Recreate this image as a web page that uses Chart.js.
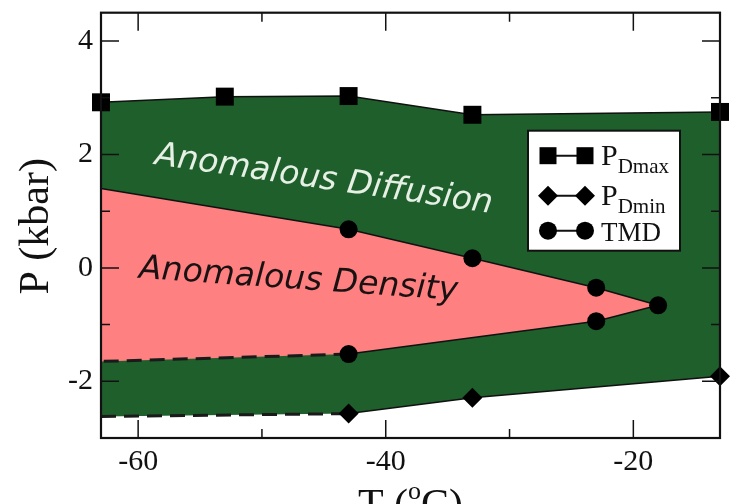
<!DOCTYPE html>
<html>
<head>
<meta charset="utf-8">
<script src="https://cdn.jsdelivr.net/npm/chart.js@4.4.0/dist/chart.umd.min.js"></script>
<style>
  body { margin: 0; background: #fff; }
  canvas { display: block; }
</style>
</head>
<body>
<canvas id="phaseChart" width="746" height="504"></canvas>
<script>
// Temperatures in °C, pressures in kbar
const tempDmax = [-63, -53, -43, -33, -13];
const pDmax = [2.92, 3.02, 3.03, 2.70, 2.75];

const tempDmin = [-43, -33, -13];
const pDmin = [-2.57, -2.29, -1.91];
// extrapolated part of the P_Dmin curve (dashed)
const tempDminExt = [-63, -43];
const pDminExt = [-2.62, -2.57];

// TMD line, upper branch then back along the lower branch
const tempTmd = [-43, -33, -23, -18, -23, -43];
const pTmd = [0.68, 0.17, -0.35, -0.66, -0.94, -1.52];
// extrapolated parts of the TMD line
const tempTmdUpperExt = [-63, -43];
const pTmdUpperExt = [1.40, 0.68];
const tempTmdLowerExt = [-43, -63];
const pTmdLowerExt = [-1.52, -1.65];

const xTicks = [-60, -40, -20];
const xMinorTicks = [-50, -30];
const yTicks = [-2, 0, 2, 4];
const yMinorTicks = [-1, 1, 3];

const GREEN = '#1e5f2c';
const PINK = '#ff8080';

const zip = (xs, ys) => xs.map((x, i) => ({ x: x, y: ys[i] }));

// closed outlines of the two regions
const diffusionRegion = zip(tempDmax, pDmax)
    .concat(zip(tempDmin, pDmin).reverse())
    .concat(zip(tempDminExt, pDminExt).reverse());
const densityRegion = zip(tempTmdUpperExt, pTmdUpperExt)
    .concat(zip(tempTmd, pTmd))
    .concat(zip(tempTmdLowerExt, pTmdLowerExt));

const regionLabels = [
    { text: 'Anomalous Diffusion', t: -45.1, p: 1.40, angle: 8.3, color: '#e6f0e4' },
    { text: 'Anomalous Density', t: -47.1, p: -0.37, angle: 4.0, color: '#1a1212' }
];

// frame and inward ticks on all four sides
const framePlugin = {
    id: 'frame',
    afterDatasetsDraw(chart) {
        const { ctx, chartArea: a, scales: { x, y } } = chart;
        ctx.save();
        ctx.strokeStyle = '#111';
        ctx.lineWidth = 1.5;
        const tick = (vals, len, horiz) => {
            vals.forEach(v => {
                ctx.beginPath();
                if (horiz) {
                    const px = x.getPixelForValue(v);
                    ctx.moveTo(px, a.bottom); ctx.lineTo(px, a.bottom - len);
                    ctx.moveTo(px, a.top); ctx.lineTo(px, a.top + len);
                } else {
                    const py = y.getPixelForValue(v);
                    ctx.moveTo(a.left, py); ctx.lineTo(a.left + len, py);
                    ctx.moveTo(a.right, py); ctx.lineTo(a.right - len, py);
                }
                ctx.stroke();
            });
        };
        tick(xTicks, 18, true);
        tick(xMinorTicks, 9, true);
        tick(yTicks, 18, false);
        tick(yMinorTicks, 9, false);
        ctx.lineWidth = 2.2;
        ctx.strokeRect(a.left, a.top, a.right - a.left, a.bottom - a.top);
        ctx.restore();
    }
};

// region names, axis titles and the legend box
const textPlugin = {
    id: 'texts',
    afterDraw(chart) {
        const { ctx, chartArea: a, scales: { x, y } } = chart;
        ctx.save();

        regionLabels.forEach(l => {
            ctx.save();
            ctx.translate(x.getPixelForValue(l.t), y.getPixelForValue(l.p));
            ctx.rotate(l.angle * Math.PI / 180);
            ctx.font = 'italic 33px "DejaVu Sans"';
            ctx.fillStyle = l.color;
            ctx.textAlign = 'center';
            ctx.textBaseline = 'alphabetic';
            ctx.fillText(l.text, 0, 0);
            ctx.restore();
        });

        ctx.fillStyle = '#111';
        // y title
        ctx.save();
        ctx.translate(48, (a.top + a.bottom) / 2 + 1);
        ctx.rotate(-Math.PI / 2);
        ctx.font = '42px "Liberation Serif"';
        ctx.textAlign = 'center';
        ctx.textBaseline = 'alphabetic';
        ctx.fillText('P (kbar)', 0, 0);
        ctx.restore();

        // x title with superscript degree
        const cx = (a.left + a.right) / 2;
        const base = a.bottom + 80;
        ctx.textBaseline = 'alphabetic';
        ctx.textAlign = 'left';
        ctx.font = '42px "Liberation Serif"';
        const w1 = ctx.measureText('T (').width;
        const w3 = ctx.measureText('C)').width;
        ctx.font = '26px "Liberation Serif"';
        const w2 = ctx.measureText('o').width;
        let px = cx - (w1 + w2 + w3) / 2;
        ctx.font = '42px "Liberation Serif"';
        ctx.fillText('T (', px, base);
        px += w1;
        ctx.font = '26px "Liberation Serif"';
        ctx.fillText('o', px, base - 19);
        px += w2;
        ctx.font = '42px "Liberation Serif"';
        ctx.fillText('C)', px, base);

        // legend
        const lx = a.right - 192, ly = a.top + 118, lw = 152, lh = 120;
        ctx.fillStyle = '#fff';
        ctx.fillRect(lx, ly, lw, lh);
        ctx.strokeStyle = '#111';
        ctx.lineWidth = 2;
        ctx.strokeRect(lx, ly, lw, lh);

        const rows = [
            { shape: 'square', main: 'P', sub: 'Dmax', dy: 25 },
            { shape: 'diamond', main: 'P', sub: 'Dmin', dy: 65 },
            { shape: 'circle', main: 'TMD', sub: '', dy: 100 }
        ];
        rows.forEach(r => {
            const ry = ly + r.dy;
            const m1 = lx + 20, m2 = lx + 57;
            ctx.strokeStyle = '#111';
            ctx.lineWidth = 2;
            ctx.beginPath();
            ctx.moveTo(m1, ry); ctx.lineTo(m2, ry);
            ctx.stroke();
            ctx.fillStyle = '#000';
            [m1, m2].forEach(mx => {
                ctx.beginPath();
                if (r.shape === 'square') {
                    ctx.rect(mx - 8.5, ry - 8.5, 17, 17);
                } else if (r.shape === 'diamond') {
                    ctx.moveTo(mx - 10, ry); ctx.lineTo(mx, ry - 10);
                    ctx.lineTo(mx + 10, ry); ctx.lineTo(mx, ry + 10);
                    ctx.closePath();
                } else {
                    ctx.arc(mx, ry, 9, 0, Math.PI * 2);
                }
                ctx.fill();
            });
            ctx.fillStyle = '#111';
            ctx.textAlign = 'left';
            if (r.sub) {
                ctx.font = '30px "Liberation Serif"';
                ctx.fillText(r.main, lx + 73, ry + 9);
                const pw = ctx.measureText(r.main).width;
                ctx.font = '21px "Liberation Serif"';
                ctx.fillText(r.sub, lx + 73 + pw, ry + 17);
            } else {
                ctx.font = '27px "Liberation Serif"';
                ctx.fillText(r.main, lx + 73, ry + 10);
            }
        });
        ctx.restore();
    }
};

const lineStyle = { showLine: true, borderColor: '#111', tension: 0, clip: false, order: 1 };

new Chart(document.getElementById('phaseChart').getContext('2d'), {
    type: 'scatter',
    data: {
        datasets: [
            {
                label: 'diffusion region', data: diffusionRegion, showLine: true,
                fill: 'shape', backgroundColor: GREEN, borderWidth: 0, pointRadius: 0, order: 10
            },
            {
                label: 'density region', data: densityRegion, showLine: true,
                fill: 'shape', backgroundColor: PINK, borderWidth: 0, pointRadius: 0, order: 9
            },
            Object.assign({}, lineStyle, {
                label: 'P_Dmax', data: zip(tempDmax, pDmax), borderWidth: 1.5,
                pointStyle: 'rect', pointRadius: 12.7, backgroundColor: '#000', pointBorderWidth: 0
            }),
            Object.assign({}, lineStyle, {
                label: 'P_Dmin', data: zip(tempDmin, pDmin), borderWidth: 1.5,
                pointStyle: 'rectRot', pointRadius: 10, backgroundColor: '#000', pointBorderWidth: 0
            }),
            Object.assign({}, lineStyle, {
                label: 'P_Dmin extrapolated', data: zip(tempDminExt, pDminExt), borderWidth: 3,
                borderDash: [15, 8], borderColor: '#1a1a1a', pointRadius: 0
            }),
            Object.assign({}, lineStyle, {
                label: 'TMD', data: zip(tempTmd, pTmd), borderWidth: 1.5,
                pointStyle: 'circle', pointRadius: 9, backgroundColor: '#000', pointBorderWidth: 0
            }),
            Object.assign({}, lineStyle, {
                label: 'TMD upper extrapolated', data: zip(tempTmdUpperExt, pTmdUpperExt),
                borderWidth: 1.5, pointRadius: 0
            }),
            Object.assign({}, lineStyle, {
                label: 'TMD lower extrapolated', data: zip(tempTmdLowerExt, pTmdLowerExt),
                borderWidth: 3, borderDash: [15, 8], borderColor: '#1a1a1a', pointRadius: 0
            })
        ]
    },
    options: {
        responsive: false,
        animation: false,
        layout: { padding: { top: 10, right: 26, left: 0, bottom: 0 } },
        plugins: {
            legend: { display: false },
            tooltip: { enabled: false }
        },
        scales: {
            x: {
                type: 'linear', min: -63, max: -13,
                grid: { display: false, drawTicks: false },
                border: { display: false },
                afterBuildTicks: s => { s.ticks = xTicks.map(v => ({ value: v })); },
                afterFit: s => { s.height = 66; s.paddingLeft = 0; s.paddingRight = 0; },
                ticks: {
                    color: '#111', padding: 6,
                    font: { family: 'Liberation Serif', size: 30 }
                }
            },
            y: {
                type: 'linear', min: -3, max: 4.5,
                grid: { display: false, drawTicks: false },
                border: { display: false },
                afterBuildTicks: s => { s.ticks = yTicks.map(v => ({ value: v })); },
                afterFit: s => { s.width = 101; s.paddingTop = 0; s.paddingBottom = 0; },
                ticks: {
                    color: '#111', padding: 8,
                    font: { family: 'Liberation Serif', size: 30 }
                }
            }
        }
    },
    plugins: [framePlugin, textPlugin]
});
</script>
</body>
</html>
